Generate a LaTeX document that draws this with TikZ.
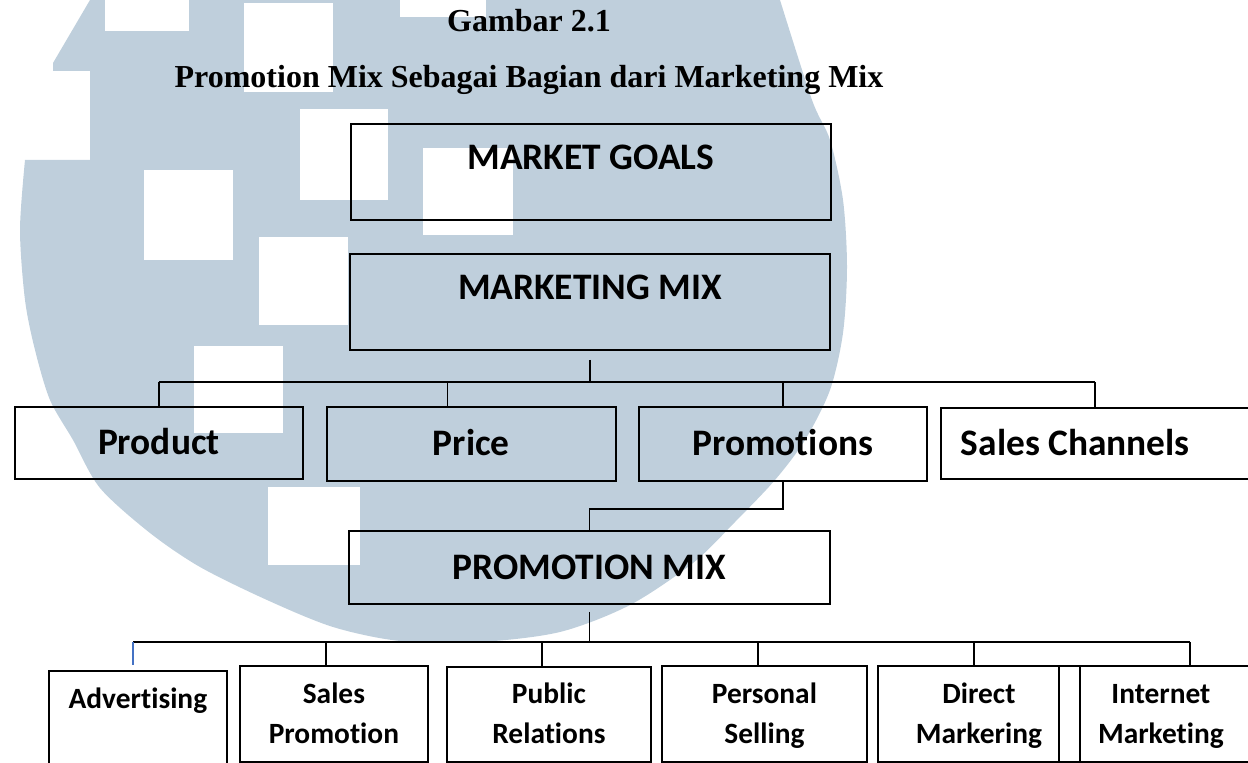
\documentclass[tikz,border=0pt]{standalone}
\usepackage{fontspec}
\setmainfont{Liberation Serif}
\newfontfamily\calibri{Carlito}[Ligatures=NoCommon]
\usetikzlibrary{positioning,calc}
\definecolor{umnblue}{RGB}{191,207,220}
\definecolor{linkblue}{RGB}{68,114,196}

\begin{document}
\begin{tikzpicture}[x=0.5pt,y=-0.5pt,
    wh/.style 2 args={minimum width={#1*0.5pt},minimum height={#2*0.5pt}},
    box/.style={draw,line width=0.9pt,anchor=north west,inner sep=0pt,
        font=\calibri\bfseries\fontsize{18.7}{22}\selectfont,text height=12pt,text depth=0pt},
    topbox/.style={box,text depth=14.5pt},
    leaf/.style={draw,line width=0.9pt,anchor=north west,inner sep=0pt,align=center,
        font=\calibri\bfseries\fontsize{14.7}{20}\selectfont,text height=29.5pt,text depth=0pt},
    wire/.style={line width=0.8pt}]
    \useasboundingbox (0,0) rectangle (1248,763);
    % logo in the background
    \fill[umnblue] (90,0) -- plot[smooth] coordinates {(780,0) (812,100) (830,140) (843,200) (847,267) (843,333) (830,390) (805,440) (775,480) (735,522) (693,563) (630,605) (560,632) (480,642) (400,641) (333,627) (267,600) (200,567) (150,533) (100,488) (73,440) (50,400) (35,350) (25,300) (20,230) (25,160)}
        -- (90,160) -- (90,71) -- (53,71) -- (53,63) -- cycle;
    \foreach \a/\b/\c/\d in {105/0/189/31, 244/3/333/92, 400/0/486/17, 300/109/388/200, 144/170/233/260,
        423/148/513/235, 259/237/348/325, 194/346/283/433, 268/487/360/565}
        \fill[white] (\a,\b) rectangle (\c,\d);

    \node (fig) [anchor=base,font=\bfseries\fontsize{16}{19}\selectfont] at (529,32) {Gambar 2.1};
    \node (caption) [anchor=base,font=\bfseries\fontsize{16}{19}\selectfont] at (529,88) {Promotion Mix Sebagai Bagian dari Marketing Mix};

    \node (goals) [topbox,wh={480}{96}] at (350,123) {MARKET GOALS};
    \node (mix) [topbox,wh={480}{96}] at (349,253) {MARKETING MIX};
    \node (product) [box,wh={288}{72}] at (14,406) {Product};
    \node (price) [box,wh={289}{74}] at (326,406) {Price};
    \node (promo) [box,wh={288}{74}] at (638,406) {Promotions};
    \node (sales) [box,wh={322}{71},text width=141pt,align=flush left,inner xsep=10pt] at (940,407) {Sales Channels};
    \node (pmix) [box,wh={481}{73}] at (348,530) {PROMOTION MIX};

    \node (adv) [leaf,wh={178}{96}] at (48,670) {Advertising\\\strut};
    \node (sprom) [leaf,wh={188}{96}] at (239,665) {Sales\\Promotion};
    \node (prel) [leaf,wh={204}{95}] at (446,666) {Public\\Relations};
    \node (psell) [leaf,wh={205}{96}] at (661,665) {Personal\\Selling};
    \node (dmark) [leaf,wh={202}{96}] at (877,665) {Direct\\Markering};
    \node (imark) [leaf,wh={204}{96}] at (1058,665) {Internet\\Marketing};

    % marketing mix branches
    \coordinate (mbus) at (mix.south |- 0,382);
    \coordinate (pricedrop) at ([xshift=-12pt]price.north);
    \coordinate (salesdrop) at ([xshift=-3.5pt]sales.north);
    \draw[wire,shorten <=4.5pt] (mix.south) -- (mbus);
    \draw[wire] (mbus -| product) -- (mbus -| salesdrop);
    \foreach \n in {product,pricedrop,promo,salesdrop}
        \draw[wire] (mbus -| \n) -- (\n);
    \draw[wire] (promo.south) -- ++(0,27) -| (pmix.north);

    % promotion mix branches
    \coordinate (pbus) at (pmix.south |- 0,642);
    \draw[wire,shorten <=3.5pt] (pmix.south) -- (pbus);
    \draw[wire] (pbus -| 133,0) -- (pbus -| 1190,0);
    \draw[linkblue,line width=0.6pt] (pbus -| 133,0) -- (133,0 |- sprom.north);
    \foreach \n/\x in {sprom/326,prel/542,psell/758,dmark/974,imark/1190}
        \draw[wire] (pbus -| \x,0) -- (\x,0 |- \n.north);
\end{tikzpicture}
\end{document}
